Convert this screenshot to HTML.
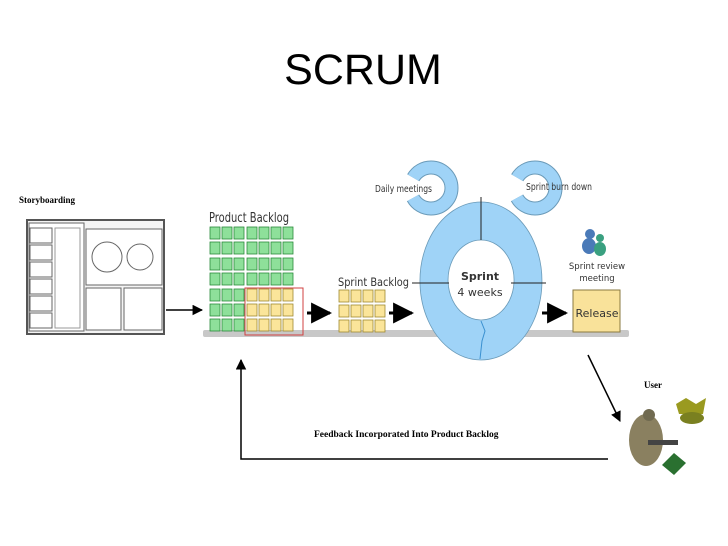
<!DOCTYPE html>
<html><head><meta charset="utf-8"><style>body{margin:0;background:#fff}svg{display:block}</style></head><body>
<svg width="728" height="546" viewBox="0 0 728 546" xmlns="http://www.w3.org/2000/svg">
<defs><marker id="ah" viewBox="0 0 10 10" refX="9" refY="5" markerWidth="7" markerHeight="7" orient="auto"><path d="M0,0L10,5L0,10z" fill="#000"/></marker></defs>
<text x="363" y="84" text-anchor="middle" font-family="Liberation Sans, sans-serif" font-size="43">SCRUM</text>
<text x="19" y="203" font-family="Liberation Serif, serif" font-weight="bold" font-size="9">Storyboarding</text>
<!-- storyboard -->
<g fill="none" stroke="#666" stroke-width="1">
<rect x="27" y="220" width="137" height="114" fill="#f4f4f4" stroke="#555" stroke-width="2"/>
<rect x="29" y="223" width="55" height="108" fill="#fff"/>
<rect x="86" y="229" width="76" height="56" fill="#fff"/>
<rect x="86" y="288" width="35" height="42" fill="#fff"/>
<rect x="124" y="288" width="38" height="42" fill="#fff"/>
<circle cx="107" cy="257" r="15"/><circle cx="140" cy="257" r="13"/>
<rect x="30" y="228" width="22" height="15"/><rect x="30" y="245" width="22" height="15"/><rect x="30" y="262" width="22" height="15"/><rect x="30" y="279" width="22" height="15"/><rect x="30" y="296" width="22" height="15"/><rect x="30" y="313" width="22" height="15"/>
<rect x="55" y="228" width="25" height="100" stroke="#999"/>
</g>
<line x1="166" y1="310" x2="202" y2="310" stroke="#000" stroke-width="1.5" marker-end="url(#ah)"/>
<!-- bar -->
<rect x="203" y="330" width="426" height="7" rx="2" fill="#c8c8c8"/>
<text x="209" y="222" font-family="DejaVu Sans, sans-serif" font-size="13" fill="#333" textLength="80" lengthAdjust="spacingAndGlyphs">Product Backlog</text>
<g stroke="#2a8a3a" stroke-width="0.8">
<g fill="#8ee09a">
<rect x="210" y="227" width="10" height="12"/><rect x="222" y="227" width="10" height="12"/><rect x="234" y="227" width="10" height="12"/><rect x="247" y="227" width="10" height="12"/><rect x="259" y="227" width="10" height="12"/><rect x="271" y="227" width="10" height="12"/><rect x="283" y="227" width="10" height="12"/>
<rect x="210" y="242" width="10" height="12"/><rect x="222" y="242" width="10" height="12"/><rect x="234" y="242" width="10" height="12"/><rect x="247" y="242" width="10" height="12"/><rect x="259" y="242" width="10" height="12"/><rect x="271" y="242" width="10" height="12"/><rect x="283" y="242" width="10" height="12"/>
<rect x="210" y="258" width="10" height="12"/><rect x="222" y="258" width="10" height="12"/><rect x="234" y="258" width="10" height="12"/><rect x="247" y="258" width="10" height="12"/><rect x="259" y="258" width="10" height="12"/><rect x="271" y="258" width="10" height="12"/><rect x="283" y="258" width="10" height="12"/>
<rect x="210" y="273" width="10" height="12"/><rect x="222" y="273" width="10" height="12"/><rect x="234" y="273" width="10" height="12"/><rect x="247" y="273" width="10" height="12"/><rect x="259" y="273" width="10" height="12"/><rect x="271" y="273" width="10" height="12"/><rect x="283" y="273" width="10" height="12"/>
<rect x="210" y="289" width="10" height="12"/><rect x="222" y="289" width="10" height="12"/><rect x="234" y="289" width="10" height="12"/>
<rect x="210" y="304" width="10" height="12"/><rect x="222" y="304" width="10" height="12"/><rect x="234" y="304" width="10" height="12"/>
<rect x="210" y="319" width="10" height="12"/><rect x="222" y="319" width="10" height="12"/><rect x="234" y="319" width="10" height="12"/>
</g></g>
<g fill="#fbe59a" stroke="#a08a30" stroke-width="0.8">
<rect x="247" y="289" width="10" height="12"/><rect x="259" y="289" width="10" height="12"/><rect x="271" y="289" width="10" height="12"/><rect x="283" y="289" width="10" height="12"/>
<rect x="247" y="304" width="10" height="12"/><rect x="259" y="304" width="10" height="12"/><rect x="271" y="304" width="10" height="12"/><rect x="283" y="304" width="10" height="12"/>
<rect x="247" y="319" width="10" height="12"/><rect x="259" y="319" width="10" height="12"/><rect x="271" y="319" width="10" height="12"/><rect x="283" y="319" width="10" height="12"/>
<rect x="339" y="290" width="10" height="12"/><rect x="351" y="290" width="10" height="12"/><rect x="363" y="290" width="10" height="12"/><rect x="375" y="290" width="10" height="12"/>
<rect x="339" y="305" width="10" height="12"/><rect x="351" y="305" width="10" height="12"/><rect x="363" y="305" width="10" height="12"/><rect x="375" y="305" width="10" height="12"/>
<rect x="339" y="320" width="10" height="12"/><rect x="351" y="320" width="10" height="12"/><rect x="363" y="320" width="10" height="12"/><rect x="375" y="320" width="10" height="12"/>
</g>
<rect x="245" y="288" width="58" height="47" fill="none" stroke="#d04040" stroke-width="1"/>
<text x="338" y="286" font-family="DejaVu Sans, sans-serif" font-size="11.5" fill="#333" textLength="71" lengthAdjust="spacingAndGlyphs">Sprint Backlog</text>
<g stroke="#000" stroke-width="3" marker-end="url(#ah)">
<line x1="307" y1="313" x2="330" y2="313"/><line x1="389" y1="313" x2="412" y2="313"/><line x1="542" y1="313" x2="566" y2="313"/>
</g>
<!-- ears -->
<circle cx="431" cy="188" r="20.5" fill="none" stroke="#6a9ab8" stroke-width="14" stroke-dasharray="54 21 54 0"/>
<circle cx="431" cy="188" r="20.5" fill="none" stroke="#9fd3f7" stroke-width="12" stroke-dasharray="54 21 54 0"/>
<circle cx="535" cy="188" r="20.5" fill="none" stroke="#6a9ab8" stroke-width="14" stroke-dasharray="54 21 54 0"/>
<circle cx="535" cy="188" r="20.5" fill="none" stroke="#9fd3f7" stroke-width="12" stroke-dasharray="54 21 54 0"/>
<path fill-rule="evenodd" fill="#9fd3f7" stroke="#6a9ab8" stroke-width="0.8" d="M481 202a61 79 0 1 1 -0.1 0zM481 240a33 40 0 1 0 0.1 0z"/>
<path d="M481 321l4 10l-3 10l-2 18" stroke="#3a90d0" fill="none"/>
<g stroke="#222" stroke-width="1"><line x1="481" y1="197" x2="481" y2="240"/><line x1="412" y1="283" x2="449" y2="283"/><line x1="511" y1="283" x2="546" y2="283"/></g>
<text x="375" y="192" font-family="DejaVu Sans, sans-serif" font-size="9.5" fill="#333" textLength="57" lengthAdjust="spacingAndGlyphs">Daily meetings</text>
<text x="526" y="190" font-family="DejaVu Sans, sans-serif" font-size="9.5" fill="#333" textLength="66" lengthAdjust="spacingAndGlyphs">Sprint burn down</text>
<text x="480" y="280" text-anchor="middle" font-family="DejaVu Sans, sans-serif" font-weight="bold" font-size="11" fill="#333">Sprint</text>
<text x="480" y="296" text-anchor="middle" font-family="DejaVu Sans, sans-serif" font-size="11" fill="#333">4 weeks</text>
<!-- people icon -->
<g><circle cx="590" cy="234" r="5" fill="#4a7ab8"/><ellipse cx="589" cy="246" rx="7" ry="8" fill="#4a7ab8"/><circle cx="600" cy="238" r="4" fill="#3aa080"/><ellipse cx="600" cy="249" rx="6" ry="7" fill="#3aa080"/></g>
<text x="597" y="269" text-anchor="middle" font-family="DejaVu Sans, sans-serif" font-size="8.5" fill="#333">Sprint review</text>
<text x="597" y="281" text-anchor="middle" font-family="DejaVu Sans, sans-serif" font-size="8.5" fill="#333">meeting</text>
<rect x="573" y="290" width="47" height="42" fill="#f9e29a" stroke="#8a7a40"/>
<text x="597" y="317" text-anchor="middle" font-family="DejaVu Sans, sans-serif" font-size="11" fill="#333">Release</text>
<!-- feedback -->
<polyline points="608,459 241,459 241,360" fill="none" stroke="#000" stroke-width="1.5" marker-end="url(#ah)"/>
<line x1="588" y1="355" x2="620" y2="421" stroke="#000" stroke-width="1.5" marker-end="url(#ah)"/>
<text x="314" y="437" font-family="Liberation Serif, serif" font-weight="bold" font-size="9.5">Feedback Incorporated Into Product Backlog</text>
<text x="644" y="388" font-family="Liberation Serif, serif" font-weight="bold" font-size="9">User</text>
<!-- soldier -->
<g><ellipse cx="646" cy="440" rx="17" ry="26" fill="#8a8060"/><circle cx="649" cy="415" r="6" fill="#706a50"/><rect x="648" y="440" width="30" height="5" fill="#444"/><path d="M676 404l10 -6l10 6l10 -6l-3 16l-24 0z" fill="#9a9a20"/><ellipse cx="692" cy="418" rx="12" ry="6" fill="#7a8020"/><path d="M662 465l12 -12l12 10l-12 12z" fill="#2a7030"/></g>
</svg>
</body></html>
